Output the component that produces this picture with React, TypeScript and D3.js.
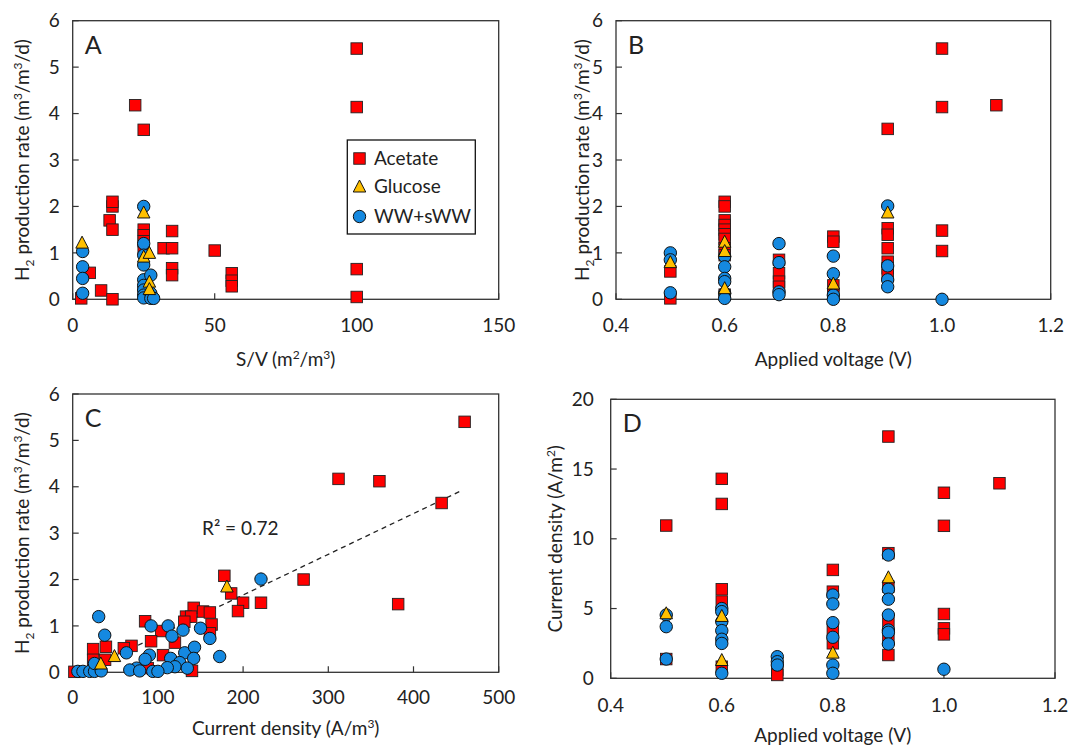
import React from "react";
import * as d3 from "d3";

type Pt = [number, number];

// ---------- Panel A: S/V vs H2 production rate ----------
const ACETATE_A: Pt[] = [[3,0.02],[6,0.57],[10,0.19],[14,0],[13,1.7],[14,1.5],[14,2.0],[14,2.1],[22,4.18],[25,3.65],[25,1.5],[25,1.38],[25,1.25],[25,1.1],[25,0.2],[32,1.1],[35,1.47],[35,1.1],[35,0.67],[35,0.52],[50,1.05],[56,0.56],[56,0.4],[56,0.28],[100,5.4],[100,4.14],[100,0.65],[100,0.05]];
const GLUCOSE_A: Pt[] = [[3.3,1.22],[25,1.87],[25,0.92],[27,1.0],[27,0.38],[27,0.22]];
const WW_A: Pt[] = [[3.5,1.03],[3.5,0.7],[3.5,0.45],[3.5,0.13],[25,2.0],[25,1.2],[25,0.95],[25,0.74],[25,0.42],[25,0.3],[25,0.2],[25,0.09],[25,0.03],[27.5,0.52],[27.5,0.13],[27.5,0.02],[28.5,0.02]];

// ---------- Panel B: applied voltage vs H2 production rate ----------
const ACETATE_B: Pt[] = [[0.5,0.6],[0.5,0.02],[0.6,2.1],[0.6,2.0],[0.6,1.7],[0.6,1.6],[0.6,1.5],[0.6,1.4],[0.6,1.3],[0.6,1.1],[0.6,0.95],[0.6,0.1],[0.7,0.85],[0.7,0.56],[0.7,0.38],[0.7,0.27],[0.8,1.35],[0.8,1.24],[0.8,0.3],[0.8,0.1],[0.9,3.67],[0.9,1.53],[0.9,1.39],[0.9,1.1],[0.9,0.81],[0.9,0.67],[0.9,0.52],[1.0,5.4],[1.0,4.14],[1.0,1.48],[1.0,1.04],[1.1,4.18]];
const GLUCOSE_B: Pt[] = [[0.5,0.8],[0.6,1.24],[0.6,1.04],[0.6,0.24],[0.8,0.34],[0.9,1.87]];
const WW_B: Pt[] = [[0.5,1.0],[0.5,0.85],[0.5,0.14],[0.6,0.92],[0.6,0.7],[0.6,0.45],[0.6,0.38],[0.6,0.13],[0.6,0.02],[0.7,1.2],[0.7,0.79],[0.7,0.16],[0.7,0.1],[0.8,0.93],[0.8,0.55],[0.8,0.09],[0.8,0.0],[0.9,2.01],[0.9,0.72],[0.9,0.42],[0.9,0.27],[1.0,0.0]];

// ---------- Panel C: current density (A/m3) vs H2 production rate ----------
const ACETATE_C: Pt[] = [[460,5.4],[312,4.17],[360,4.12],[433,3.65],[382,1.47],[271,2.0],[221,1.5],[178,2.08],[186,1.7],[200,1.5],[194,1.32],[142,1.39],[133,1.2],[139,1.2],[153,1.31],[161,1.29],[163,1.03],[161,0.84],[131,1.09],[85,1.1],[104,0.89],[92,0.67],[120,0.64],[106,0.37],[24,0.5],[39,0.55],[69,0.57],[60,0.52],[24,0.27],[38,0.27],[2,0.01],[140,0.03],[88,0.09]];
const GLUCOSE_C: Pt[] = [[181,1.85],[49,0.35],[33,0.19]];
const WW_C: Pt[] = [[221,2.01],[30.5,1.2],[37.6,0.8],[92,1.0],[112,1.0],[116.5,0.78],[129.5,0.91],[150,0.95],[161,0.73],[172.5,0.34],[63,0.42],[90,0.37],[85,0.28],[131.5,0.42],[143,0.54],[142,0.3],[115,0.3],[125.6,0.21],[120,0.12],[111,0.1],[134.5,0.09],[75,0.09],[67,0.05],[78.6,0.03],[94,0.02],[100,0.02],[6,0.02],[12,0.02],[20,0.02],[25.6,0.02],[33.5,0.03],[25.6,0.19]];
const TREND_SLOPE = 0.00878;
const TREND_INTERCEPT = -0.09;
const TREND_X: number[] = [10, 456];
const R2_LABEL = "R² = 0.72";

// ---------- Panel D: applied voltage vs current density (A/m2) ----------
const ACETATE_D: Pt[] = [[0.5,10.95],[0.5,1.38],[0.6,14.3],[0.6,12.5],[0.6,6.38],[0.6,5.5],[0.6,0.83],[0.7,0.6],[0.7,0.24],[0.8,7.77],[0.8,6.21],[0.8,3.46],[0.8,2.51],[0.9,17.33],[0.9,8.97],[0.9,6.57],[0.9,3.94],[0.9,2.9],[0.9,1.67],[1.0,13.3],[1.0,10.93],[1.0,4.61],[1.0,3.58],[1.0,3.15],[1.1,13.98]];
const GLUCOSE_D: Pt[] = [[0.5,4.66],[0.6,4.47],[0.6,1.31],[0.8,1.84],[0.9,7.24]];
const WW_D: Pt[] = [[0.5,4.54],[0.5,3.7],[0.5,1.38],[0.6,5.0],[0.6,4.78],[0.6,4.06],[0.6,3.42],[0.6,2.8],[0.6,2.5],[0.6,0.36],[0.7,1.55],[0.7,1.19],[0.7,0.95],[0.8,5.97],[0.8,5.33],[0.8,3.99],[0.8,2.94],[0.8,0.95],[0.8,0.36],[0.9,8.84],[0.9,6.38],[0.9,5.67],[0.9,4.54],[0.9,3.46],[0.9,3.3],[0.9,2.46],[1.0,0.65]];

// ---------- ticks / labels ----------
const TICKS_SV = [0, 50, 100, 150];
const TICKS_VOLT = [0.4, 0.6, 0.8, 1.0, 1.2];
const TICKS_CD = [0, 100, 200, 300, 400, 500];
const TICKS_H2 = [0, 1, 2, 3, 4, 5, 6];
const TICKS_JD = [0, 5, 10, 15, 20];
const LEGEND = ["Acetate", "Glucose", "WW+sWW"];

const RED = "#FF0000";
const GOLD = "#FFC000";
const BLUE = "#1589E0";
const FONT = "Lato, 'Open Sans', sans-serif";
const FS = 19;
const SUP = 12;

function Square({ x, y }: { x: number; y: number }) {
  const s = 11.5;
  return <rect x={x - s / 2} y={y - s / 2} width={s} height={s} fill={RED} stroke="#222" strokeWidth={0.9} />;
}
function Circle({ x, y }: { x: number; y: number }) {
  return <circle cx={x} cy={y} r={6.2} fill={BLUE} stroke="#111" strokeWidth={1} />;
}
function Tri({ x, y }: { x: number; y: number }) {
  const h = 11, w = 12.5;
  const p = `${x},${y - h / 2 - 1} ${x - w / 2},${y + h / 2} ${x + w / 2},${y + h / 2}`;
  return <polygon points={p} fill={GOLD} stroke="#111" strokeWidth={1} />;
}

const H2Title = () => (
  <>
    <tspan>H</tspan>
    <tspan dy={5} fontSize={SUP}>2</tspan>
    <tspan dy={-5}> production rate (m</tspan>
    <tspan dy={-7} fontSize={SUP}>3</tspan>
    <tspan dy={7}>/m</tspan>
    <tspan dy={-7} fontSize={SUP}>3</tspan>
    <tspan dy={7}>/d)</tspan>
  </>
);

interface PanelProps {
  box: { l: number; r: number; t: number; b: number };
  xDomain: [number, number];
  yDomain: [number, number];
  xTicks: number[];
  yTicks: number[];
  xFmt: (v: number) => string;
  letter: string;
  acetate: Pt[];
  glucose: Pt[];
  ww: Pt[];
  xTitle: React.ReactNode;
  yTitle: React.ReactNode;
  yTitleX: number;
  yLabelGap: number;
  xLabelDy: number;
  xTitleDy: number;
  children?: (x: d3.ScaleLinear<number, number>, y: d3.ScaleLinear<number, number>) => React.ReactNode;
}

function Panel(p: PanelProps) {
  const { box } = p;
  const x = d3.scaleLinear().domain(p.xDomain).range([box.l, box.r]);
  const y = d3.scaleLinear().domain(p.yDomain).range([box.b, box.t]);
  const tl = 6;
  const cx = (box.l + box.r) / 2;
  const cy = (box.t + box.b) / 2;
  return (
    <g fontFamily={FONT} fill="#222">
      <rect x={box.l} y={box.t} width={box.r - box.l} height={box.b - box.t} fill="white" stroke="#333" strokeWidth={1.3} />
      {p.yTicks.map((v) => (
        <g key={"y" + v}>
          <line x1={box.l} x2={box.l + tl} y1={y(v)} y2={y(v)} stroke="#333" strokeWidth={1.2} />
          <text x={box.l - p.yLabelGap} y={y(v)} dy="0.35em" textAnchor="end" fontSize={FS}>{v}</text>
        </g>
      ))}
      {p.xTicks.map((v) => (
        <g key={"x" + v}>
          <line x1={x(v)} x2={x(v)} y1={box.b} y2={box.b - tl} stroke="#333" strokeWidth={1.2} />
          <text x={x(v)} y={box.b + p.xLabelDy} textAnchor="middle" fontSize={FS}>{p.xFmt(v)}</text>
        </g>
      ))}
      <text x={cx} y={box.b + p.xTitleDy} textAnchor="middle" fontSize={FS}>{p.xTitle}</text>
      <text transform={`translate(${p.yTitleX},${cy}) rotate(-90)`} textAnchor="middle" fontSize={FS} dy="0.35em">{p.yTitle}</text>
      <text x={box.l + 12} y={box.t + 33} fontSize={25}>{p.letter}</text>
      {p.children ? p.children(x, y) : null}
      {p.acetate.map((d, i) => <Square key={"a" + i} x={x(d[0])} y={y(d[1])} />)}
      {p.ww.map((d, i) => <Circle key={"w" + i} x={x(d[0])} y={y(d[1])} />)}
      {p.glucose.map((d, i) => <Tri key={"g" + i} x={x(d[0])} y={y(d[1])} />)}
    </g>
  );
}

export default function App() {
  const fmtInt = (v: number) => String(v);
  const fmt1 = d3.format(".1f");
  const legendY = [158.5, 186.5, 216.5];
  return (
    <svg width={1069} height={747} style={{ position: "absolute", left: 0, top: 0, background: "white" }}>
      <rect width={1069} height={747} fill="white" />
      <Panel
        box={{ l: 72.7, r: 498.7, t: 20.7, b: 299.3 }}
        xDomain={[0, 150]} yDomain={[0, 6]} xTicks={TICKS_SV} yTicks={TICKS_H2} xFmt={fmtInt}
        letter="A" acetate={ACETATE_A} glucose={GLUCOSE_A} ww={WW_A}
        xTitle={<><tspan>S/V (m</tspan><tspan dy={-7} fontSize={SUP}>2</tspan><tspan dy={7}>/m</tspan><tspan dy={-7} fontSize={SUP}>3</tspan><tspan dy={7}>)</tspan></>}
        yTitle={<H2Title />} yTitleX={22} yLabelGap={13} xLabelDy={33} xTitleDy={67}
      >
        {() => (
          <g fontSize={FS}>
            <rect x={347.3} y={140} width={128} height={94} fill="white" stroke="#111" strokeWidth={1.3} />
            <Square x={359.5} y={legendY[0]} />
            <Tri x={359.5} y={legendY[1]} />
            <Circle x={359.5} y={legendY[2]} />
            {LEGEND.map((t, i) => (
              <text key={t} x={374} y={legendY[i]} dy="0.36em">{t}</text>
            ))}
          </g>
        )}
      </Panel>
      <Panel
        box={{ l: 616, r: 1050.7, t: 20.7, b: 299.3 }}
        xDomain={[0.4, 1.2]} yDomain={[0, 6]} xTicks={TICKS_VOLT} yTicks={TICKS_H2} xFmt={fmt1}
        letter="B" acetate={ACETATE_B} glucose={GLUCOSE_B} ww={WW_B}
        xTitle="Applied voltage (V)"
        yTitle={<H2Title />} yTitleX={582} yLabelGap={13} xLabelDy={33} xTitleDy={67}
      />
      <Panel
        box={{ l: 72.7, r: 498.7, t: 394, b: 672.3 }}
        xDomain={[0, 500]} yDomain={[0, 6]} xTicks={TICKS_CD} yTicks={TICKS_H2} xFmt={fmtInt}
        letter="C" acetate={ACETATE_C} glucose={GLUCOSE_C} ww={WW_C}
        xTitle={<><tspan>Current density (A/m</tspan><tspan dy={-7} fontSize={SUP}>3</tspan><tspan dy={7}>)</tspan></>}
        yTitle={<H2Title />} yTitleX={22} yLabelGap={13} xLabelDy={32} xTitleDy={63}
      >
        {(x, y) => (
          <g>
            <line
              x1={x(TREND_X[0])} y1={y(TREND_SLOPE * TREND_X[0] + TREND_INTERCEPT)}
              x2={x(TREND_X[1])} y2={y(TREND_SLOPE * TREND_X[1] + TREND_INTERCEPT)}
              stroke="#222" strokeWidth={1.3} strokeDasharray="5,4"
            />
            <text x={202} y={528} dy="0.35em" fontSize={FS}>{R2_LABEL}</text>
          </g>
        )}
      </Panel>
      <Panel
        box={{ l: 610.7, r: 1055, t: 399.3, b: 678.3 }}
        xDomain={[0.4, 1.2]} yDomain={[0, 20]} xTicks={TICKS_VOLT} yTicks={TICKS_JD} xFmt={fmt1}
        letter="D" acetate={ACETATE_D} glucose={GLUCOSE_D} ww={WW_D}
        xTitle="Applied voltage (V)"
        yTitle={<><tspan>Current density (A/m</tspan><tspan dy={-7} fontSize={SUP}>2</tspan><tspan dy={7}>)</tspan></>}
        yTitleX={555} yLabelGap={17} xLabelDy={34} xTitleDy={64}
      />
    </svg>
  );
}
